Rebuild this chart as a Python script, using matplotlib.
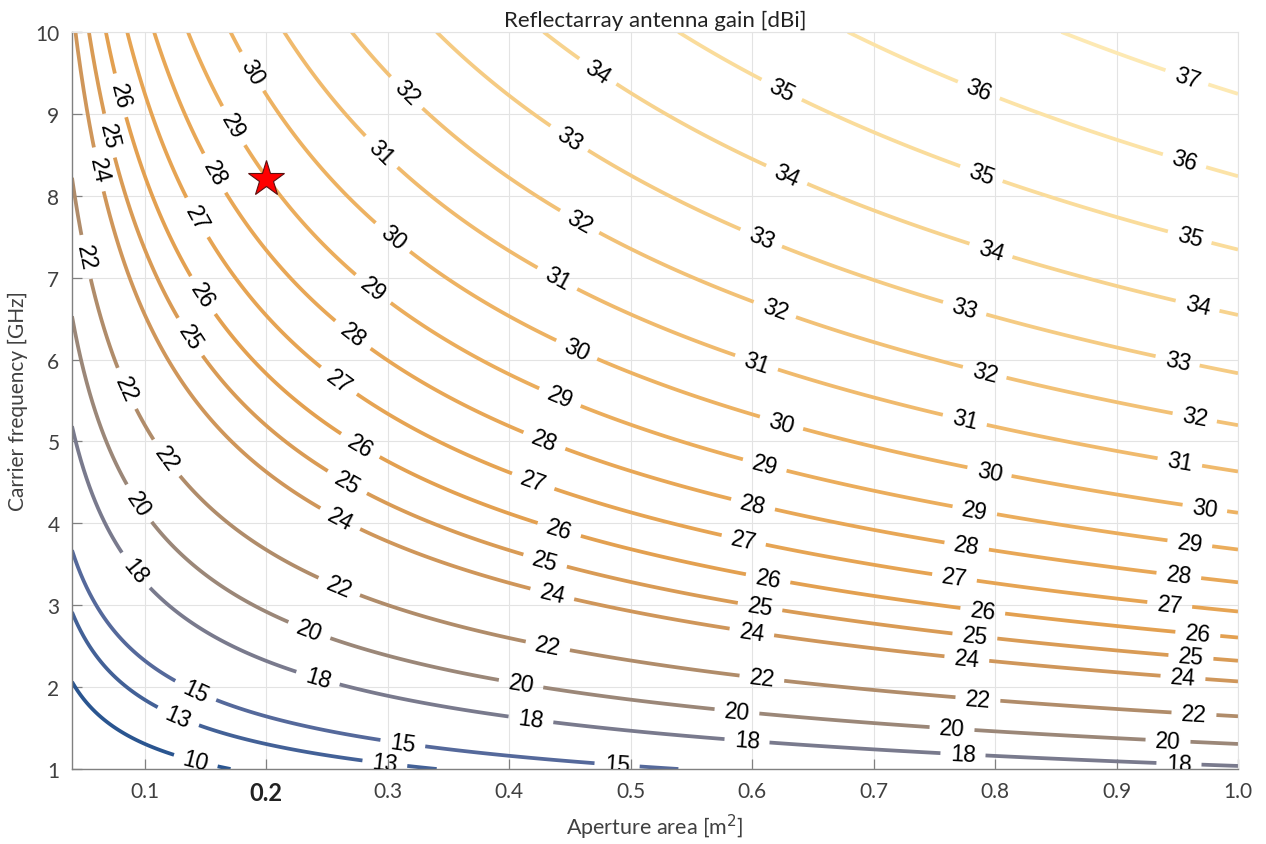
import numpy as np
import matplotlib
matplotlib.use("Agg")
import matplotlib.pyplot as plt
from matplotlib.colors import LinearSegmentedColormap, Normalize

# --- data -------------------------------------------------------------
area_min, area_max = 0.04, 1.0        # aperture area [m^2]
freq_min, freq_max = 1.0, 10.0        # carrier frequency [GHz]
efficiency = 0.42                     # aperture efficiency
levels = [10, 13, 15, 18, 20, 22, 24, 25, 26, 27, 28, 29, 30, 31, 32, 33, 34, 35, 36, 37]
star_area = 0.2
star_freq = 8.2
x_ticks = [0.1, 0.2, 0.3, 0.4, 0.5, 0.6, 0.7, 0.8, 0.9, 1.0]
y_ticks = [1, 2, 3, 4, 5, 6, 7, 8, 9, 10]

# colour stops (gain value -> colour)
stop_vals = [10, 15, 18, 20, 22, 24, 26, 28, 30, 32, 34, 36, 37]
stop_cols = ['#2a5590', '#55699b', '#7a7a8d', '#9c8778', '#b08c6a', '#cf965a', '#e3a050',
             '#e8a756', '#edb262', '#f2c176', '#f7d38e', '#fce3a6', '#fde9b3']

# label anchor points, in image pixels (x from left, y from top)
label_px = [
    (197, 757), (178, 718), (385, 763), (195, 693), (403, 743), (617, 767),
    (135, 572), (318, 679), (531, 720), (747, 742), (963, 755), (1179, 764),
    (138, 505), (309, 632), (521, 685), (737, 712), (952, 730), (1168, 742),
    (86, 258), (165, 460), (339, 588), (548, 646), (762, 678), (978, 699), (1194, 714),
    (96, 171), (148, 380), (340, 520), (553, 592), (752, 632), (967, 658), (1183, 678),
    (108, 137), (190, 338), (348, 482), (545, 562), (760, 608), (975, 636), (1191, 657),
    (118, 97), (200, 298), (360, 447), (560, 528), (768, 580), (983, 610), (1198, 633),
    (198, 218), (340, 380), (534, 480), (745, 535), (955, 575), (1170, 603),
    (213, 175), (355, 333), (545, 440), (755, 497), (967, 545), (1179, 575),
    (233, 127), (373, 290), (560, 398), (765, 465), (975, 510), (1190, 543),
    (253, 72), (393, 238), (577, 350), (782, 422), (990, 470), (1205, 508),
    (382, 152), (557, 280), (757, 362), (965, 420), (1180, 462),
    (407, 93), (580, 222), (775, 310), (985, 372), (1195, 417),
    (570, 138), (762, 237), (965, 308), (1178, 360),
    (598, 72), (787, 175), (992, 248), (1198, 305),
    (783, 88), (982, 173), (1190, 237),
    (980, 88), (1185, 160),
    (1188, 75),
]

# --- surface ----------------------------------------------------------
c = 3e8
A = np.linspace(area_min, area_max, 400)
F = np.linspace(freq_min, freq_max, 400)
AA, FF = np.meshgrid(A, F)
lam = c / (FF * 1e9)
G = 10 * np.log10(efficiency * 4 * np.pi * AA / lam ** 2)

# --- plot -------------------------------------------------------------
W, H = 1266, 845
fig = plt.figure(figsize=(W / 100, H / 100), dpi=100)
ax = fig.add_axes([72 / W, 1 - 770 / H, (1238 - 72) / W, (770 - 33) / H])
ax.set_xlim(area_min, area_max)
ax.set_ylim(freq_min, freq_max)

pos = [(v - 10) / 27 for v in stop_vals]
cmap = LinearSegmentedColormap.from_list('gain', list(zip(pos, stop_cols)))
norm = Normalize(10, 37)

ax.grid(True, color='#e3e3e3', linewidth=0.8, zorder=0)
ax.set_axisbelow(True)

cs = ax.contour(AA, FF, G, levels=levels, cmap=cmap, norm=norm, linewidths=2.7, zorder=2)

inv = ax.transData.inverted()
manual = [tuple(inv.transform((px, H - py))) for px, py in label_px]
lbls = ax.clabel(cs, manual=manual, inline=True, inline_spacing=8, fontsize=16.5, fmt='%d', colors='k')
for t in lbls:
    t.set_family('Liberation Sans')

ax.plot(star_area, star_freq, marker='*', markersize=27, color='red',
        markeredgecolor='#5a1010', markeredgewidth=0.8, zorder=5, clip_on=False)

ax.set_xticks(x_ticks)
ax.set_yticks(y_ticks)
ax.set_xticklabels(['%.1f' % v for v in x_ticks])
ax.set_yticklabels([str(v) for v in y_ticks])
ax.tick_params(direction='in', length=7, width=0.9, colors='#808080', labelcolor='#404040',
               labelsize=15, pad=9)
for lab in ax.get_xticklabels() + ax.get_yticklabels():
    lab.set_family('Lato')
    lab.set_fontsize(15)
bold = ax.get_xticklabels()[1]
bold.set_fontweight('bold')
bold.set_fontsize(17)
bold.set_color('#222222')

for s in ['left', 'bottom']:
    ax.spines[s].set_color('#808080')
    ax.spines[s].set_linewidth(1.0)
for s in ['top', 'right']:
    ax.spines[s].set_color('#e3e3e3')
    ax.spines[s].set_linewidth(0.8)

ax.set_xlabel('Aperture area [m$^2$]', fontsize=15.5, color='#404040', family='Lato')
ax.set_ylabel('Carrier frequency [GHz]', fontsize=15, color='#404040', family='Lato')
ax.xaxis.set_label_coords(0.5, -0.058)
ax.yaxis.set_label_coords(-0.038, 0.5)
ax.set_title('Reflectarray antenna gain [dBi]', fontsize=16, color='#222222', family='Lato', pad=4)

fig.savefig('out.png', dpi=100)
